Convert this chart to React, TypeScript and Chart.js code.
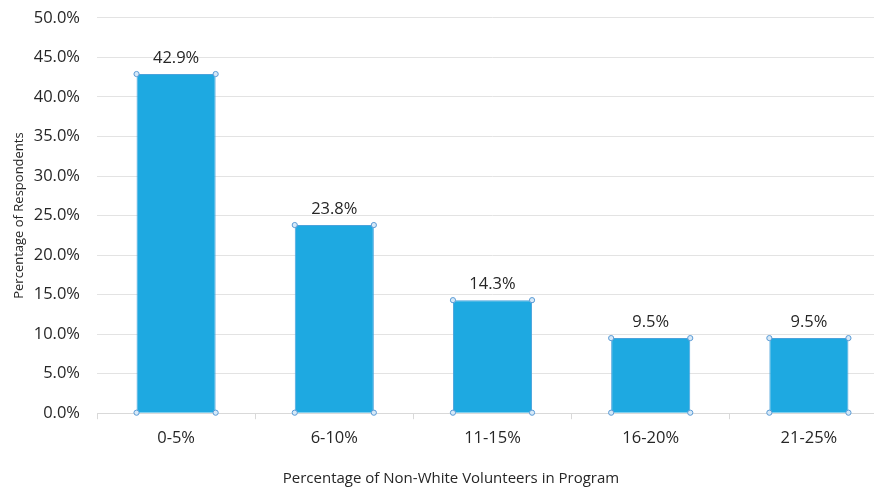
import React, { useEffect, useRef } from "react";
import { Chart, registerables } from "chart.js";

Chart.register(...registerables);

const categories = ["0-5%", "6-10%", "11-15%", "16-20%", "21-25%"];
const values = [42.9, 23.8, 14.3, 9.5, 9.5];
const yTicks = [0, 5, 10, 15, 20, 25, 30, 35, 40, 45, 50];
const xTitle = "Percentage of Non-White Volunteers in Program";
const yTitle = "Percentage of Respondents";

const FONT = "'Open Sans', 'DejaVu Sans', sans-serif";
const TEXT = "#262626";

const barDecor = {
  id: "barDecor",
  afterDatasetsDraw(chart: any) {
    const ctx = chart.ctx;
    const meta = chart.getDatasetMeta(0);
    ctx.save();
    meta.data.forEach((el: any, i: number) => {
      const half = el.width / 2;
      const pts = [
        [el.x - half, el.y],
        [el.x + half, el.y],
        [el.x - half, el.base],
        [el.x + half, el.base],
      ];
      pts.forEach(([x, y]) => {
        ctx.beginPath();
        ctx.arc(x, y, 2.6, 0, Math.PI * 2);
        ctx.fillStyle = "#d6e9f8";
        ctx.fill();
        ctx.lineWidth = 1;
        ctx.strokeStyle = "#5b9bd5";
        ctx.stroke();
      });
      ctx.font = `16.5px ${FONT}`;
      ctx.fillStyle = TEXT;
      ctx.textAlign = "center";
      ctx.textBaseline = "alphabetic";
      ctx.fillText(values[i].toFixed(1) + "%", el.x, el.y - 11);
    });
    ctx.restore();
  },
  afterDraw(chart: any) {
    const ctx = chart.ctx;
    const ys = chart.scales.y;
    const area = chart.chartArea;
    ctx.save();
    ctx.fillStyle = TEXT;
    ctx.textAlign = "center";
    ctx.textBaseline = "middle";
    ctx.font = `15px ${FONT}`;
    ctx.fillText(xTitle, chart.width / 2 + 7, area.bottom + 66);
    ctx.translate(19, ys.getPixelForValue(25));
    ctx.rotate(-Math.PI / 2);
    ctx.font = `13px ${FONT}`;
    ctx.fillText(yTitle, 0, 0);
    ctx.restore();
  },
};

export default function App() {
  const ref = useRef<HTMLCanvasElement | null>(null);
  useEffect(() => {
    if (!ref.current) return;
    const chart = new Chart(ref.current, {
      type: "bar",
      data: {
        labels: categories,
        datasets: [
          {
            data: values,
            backgroundColor: "#1ea9e1",
            borderColor: "#4aa3dc",
            borderWidth: 1,
            barPercentage: 0.5,
            categoryPercentage: 1,
          },
        ],
      },
      options: {
        animation: false,
        responsive: false,
        maintainAspectRatio: false,
        layout: { padding: { top: 0, bottom: 37, left: 0, right: 0 } },
        plugins: {
          legend: { display: false },
          tooltip: { enabled: false },
        },
        scales: {
          x: {
            offset: true,
            grid: {
              offset: true,
              drawOnChartArea: false,
              drawTicks: true,
              tickLength: 6,
              color: "#d9d9d9",
            },
            border: { color: "#d9d9d9" },
            ticks: {
              padding: 9,
              color: TEXT,
              font: { family: FONT, size: 16.5 },
            },
          },
          y: {
            min: 0,
            max: 50,
            afterFit(scale: any) {
              scale.width = 97;
            },
            afterBuildTicks(scale: any) {
              scale.ticks = yTicks.map((v) => ({ value: v }));
            },
            grid: {
              color: "#e3e3e3",
              drawTicks: false,
            },
            border: { display: false },
            ticks: {
              padding: 17,
              color: TEXT,
              font: { family: FONT, size: 16.5 },
              callback: (v: any) => Number(v).toFixed(1) + "%",
            },
          },
        },
      },
      plugins: [barDecor],
    });
    return () => chart.destroy();
  }, []);

  return (
    <div
      style={{
        position: "fixed",
        left: 0,
        top: 0,
        width: 874,
        height: 494,
        overflow: "hidden",
        background: "#fff",
      }}
    >
      <canvas
        ref={ref}
        width={888}
        height={503}
        style={{ width: 888, height: 503, display: "block", position: "absolute", left: 0, top: -9 }}
      />
    </div>
  );
}
